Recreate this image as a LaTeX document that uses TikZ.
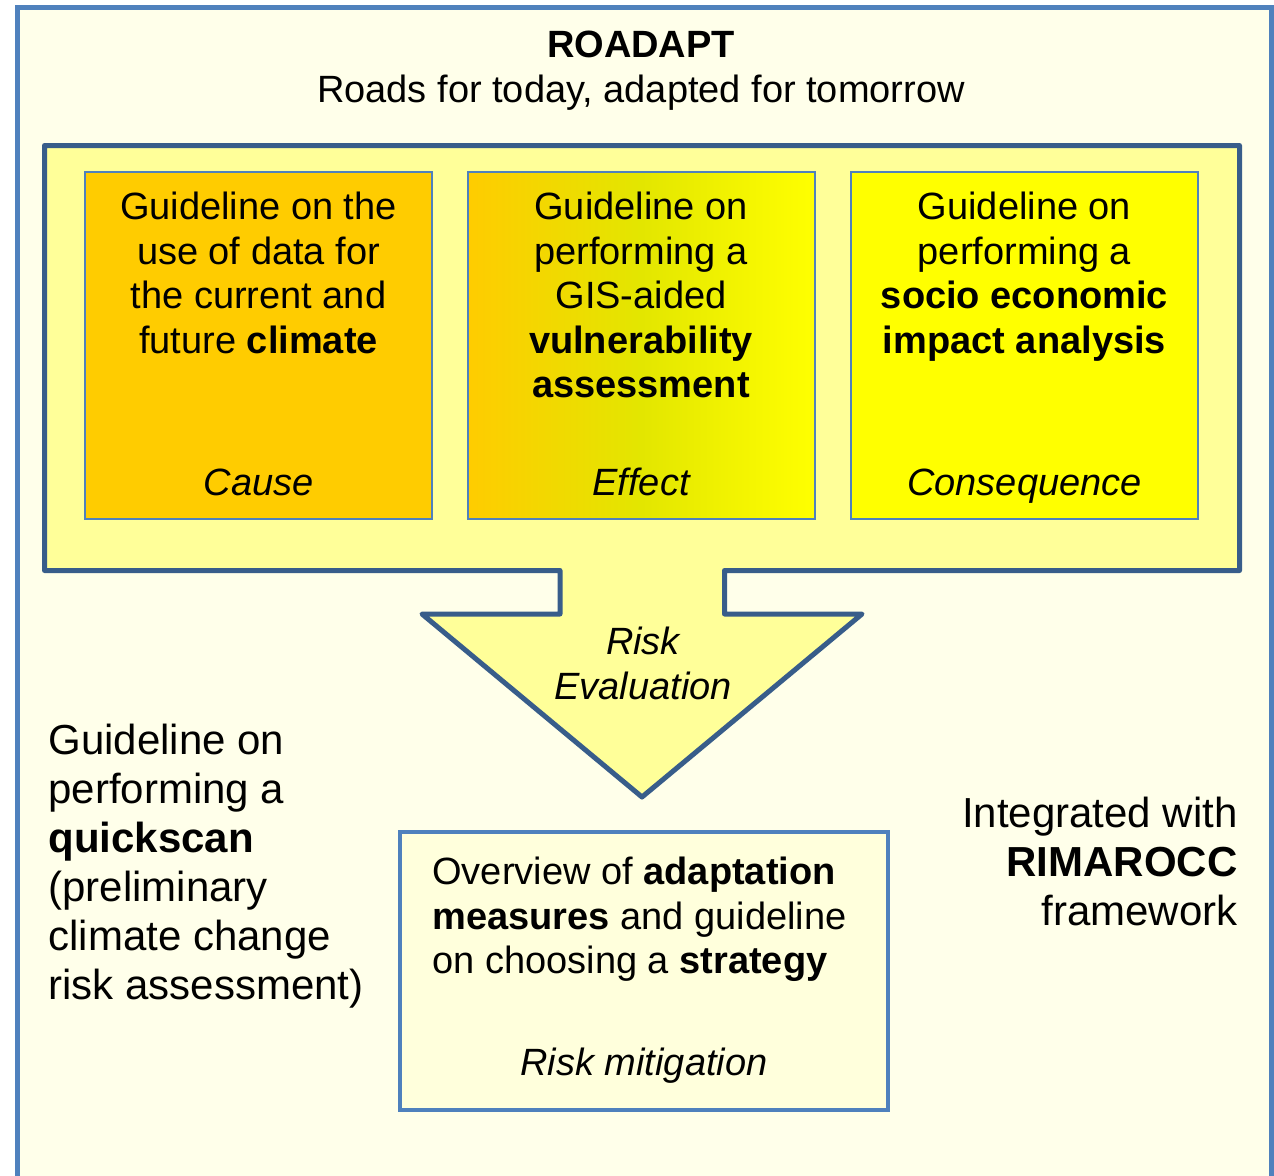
\documentclass[tikz,border=0pt]{standalone}
\usepackage{fontspec}
\setmainfont{Liberation Sans}
\usetikzlibrary{positioning}

\definecolor{frameblue}{HTML}{4F81BD}
\definecolor{darkblue}{HTML}{385D8A}
\definecolor{paleyellow}{HTML}{FFFFEA}
\definecolor{softyellow}{HTML}{FFFF99}
\definecolor{creamyellow}{HTML}{FFFFDC}
\definecolor{amber}{HTML}{FFCC00}
\definecolor{midolive}{HTML}{E3E600}
\definecolor{brightyellow}{HTML}{FFFF00}

\tikzset{
  guide/.style={draw=frameblue, line width=1pt, minimum width=173.5pt,
    minimum height=173.5pt, inner sep=0pt},
  guidetext/.style={align=center, inner sep=0pt,
    font=\fontsize{19}{22.25}\selectfont},
  tag/.style={inner sep=0pt, font=\fontsize{19}{22.25}\selectfont\itshape},
  sidetext/.style={inner sep=0pt, font=\fontsize{21}{24.5}\selectfont}
}

\begin{document}
\begin{tikzpicture}[x=0.5pt, y=-0.5pt]
  \useasboundingbox (0,0) rectangle (1274,1175);
  \clip (0,0) rectangle (1274,1175);

  % outer frame, runs off the bottom
  \draw[frameblue, line width=2.5pt, fill=paleyellow] (17.5,7.5) rectangle (1271,1200);

  \node[anchor=base, inner sep=0pt, font=\fontsize{19}{22.25}\selectfont\bfseries] (title) at (641,57) {ROADAPT};
  \node[anchor=base, inner sep=0pt, font=\fontsize{19}{22.25}\selectfont] (motto) at (641,102) {Roads for today, adapted for tomorrow};

  % inner frame with the evaluation arrow
  \coordinate (tip) at (642,797);
  \draw[darkblue, line width=2.5pt, fill=softyellow, line join=round]
    (560,570.5) -- (44.5,570.5) -- (44.5,145.5) -- (1239.5,145.5) -- (1239.5,570.5)
    -- (724.5,570.5) -- (724.5,614) -- (862,614) -- (tip) -- (422,614) -- (560,614) -- cycle;
  \node[tag, anchor=north, align=center] (evaluation) at (643,627) {Risk\\Evaluation};

  % the three guidelines
  \node[guide, fill=amber] (climate) at (258.5,345.5) {};
  \node[guide, left color=amber, right color=brightyellow, middle color=midolive] (vulner) at (641,345.5) {};
  \node[guide, fill=brightyellow] (impact) at (1024.5,345.5) {};

  \node[guidetext, below=10.5pt of climate.north] (climatetext)
    {Guideline on the\\use of data for\\the current and\\future \textbf{climate}};
  \node[guidetext, below=10.5pt of vulner.north] (vulnertext)
    {Guideline on\\performing a\\GIS-aided\\\textbf{vulnerability}\\\textbf{assessment}};
  \node[guidetext, below=10.5pt of impact.north] (impacttext)
    {Guideline on\\performing a\\\textbf{socio economic}\\\textbf{impact analysis}};

  \node[tag, anchor=base] (cause) at ([yshift=12.5pt]climate.south) {Cause};
  \node[tag, anchor=base] (effect) at ([yshift=12.5pt]vulner.south) {Effect};
  \node[tag, anchor=base] (consequence) at ([yshift=12.5pt]impact.south) {Consequence};

  % mitigation box
  \node[draw=frameblue, line width=2pt, fill=creamyellow, minimum width=244pt,
    minimum height=139pt, inner sep=0pt] (mitigation) at (644,971) {};
  \node[guidetext, align=left, anchor=north west] (mitigationtext) at (432,857)
    {Overview of \textbf{adaptation}\\\textbf{measures} and guideline\\on choosing a \textbf{strategy}};
  \node[tag, anchor=base] (mitigationtag) at ([yshift=18.5pt]mitigation.south) {Risk mitigation};

  % side notes
  \node[sidetext, align=left, anchor=north west] (quickscan) at (48,724)
    {Guideline on\\performing a\\\textbf{quickscan}\\(preliminary\\climate change\\risk assessment)};
  \node[sidetext, align=right, anchor=north east] (rimarocc) at (1238,797)
    {Integrated with\\\textbf{RIMAROCC}\\framework};
\end{tikzpicture}
\end{document}
